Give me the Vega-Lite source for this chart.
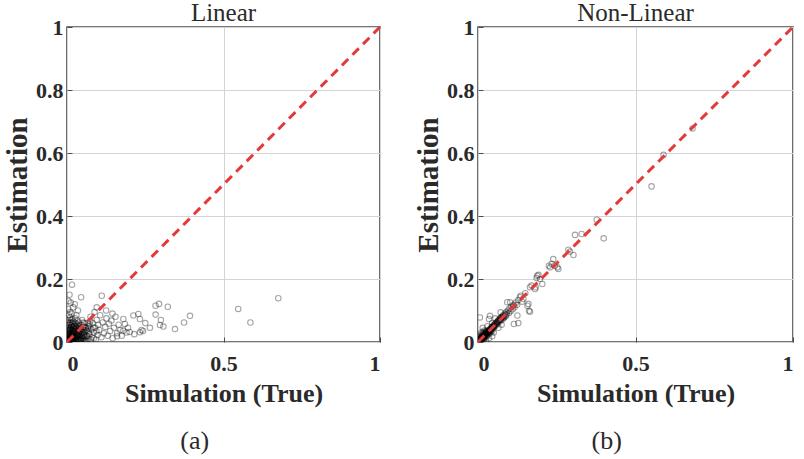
{
  "$schema": "https://vega.github.io/schema/vega-lite/v6.json",
  "background": "white",
  "padding": {"left": 2, "top": 0, "right": 4, "bottom": 4},
  "config": {
    "font": "Liberation Serif",
    "view": {"stroke": "#4a4a4a", "strokeWidth": 1.6},
    "axis": {
      "domain": false,
      "grid": true,
      "gridColor": "#d4d4d4",
      "gridWidth": 1,
      "ticks": true,
      "tickSize": -5,
      "tickColor": "#4a4a4a",
      "labelFont": "Liberation Serif",
      "labelFontWeight": "bold",
      "labelFontSize": 22,
      "labelColor": "#2a2a2a",
      "titleFont": "Liberation Serif",
      "titleFontWeight": "bold",
      "titleColor": "#2a2a2a"
    },
    "title": {"font": "Liberation Serif", "fontWeight": "normal", "fontSize": 25, "color": "#2a2a2a", "anchor": "middle"}
  },
  "datasets": {
    "diagonal": [{"v": 0}, {"v": 1}],
    "linear": [
      {"sim": 0.002, "est": 0.003}, {"sim": 0.004, "est": 0.008}, {"sim": 0.006, "est": 0.002}, {"sim": 0.008, "est": 0.012},
      {"sim": 0.010, "est": 0.005}, {"sim": 0.012, "est": 0.018}, {"sim": 0.003, "est": 0.015}, {"sim": 0.005, "est": 0.022},
      {"sim": 0.007, "est": 0.030}, {"sim": 0.009, "est": 0.009}, {"sim": 0.011, "est": 0.025}, {"sim": 0.013, "est": 0.004},
      {"sim": 0.015, "est": 0.014}, {"sim": 0.017, "est": 0.008}, {"sim": 0.019, "est": 0.020}, {"sim": 0.021, "est": 0.003},
      {"sim": 0.023, "est": 0.011}, {"sim": 0.025, "est": 0.028}, {"sim": 0.027, "est": 0.006}, {"sim": 0.029, "est": 0.016},
      {"sim": 0.031, "est": 0.002}, {"sim": 0.033, "est": 0.022}, {"sim": 0.035, "est": 0.010}, {"sim": 0.037, "est": 0.035},
      {"sim": 0.039, "est": 0.005}, {"sim": 0.041, "est": 0.018}, {"sim": 0.043, "est": 0.027}, {"sim": 0.045, "est": 0.008},
      {"sim": 0.047, "est": 0.013}, {"sim": 0.049, "est": 0.040}, {"sim": 0.051, "est": 0.003}, {"sim": 0.053, "est": 0.021},
      {"sim": 0.055, "est": 0.011}, {"sim": 0.057, "est": 0.032}, {"sim": 0.059, "est": 0.006}, {"sim": 0.002, "est": 0.040},
      {"sim": 0.004, "est": 0.050}, {"sim": 0.006, "est": 0.036}, {"sim": 0.008, "est": 0.060}, {"sim": 0.010, "est": 0.045},
      {"sim": 0.012, "est": 0.070}, {"sim": 0.014, "est": 0.055}, {"sim": 0.016, "est": 0.038}, {"sim": 0.018, "est": 0.048},
      {"sim": 0.020, "est": 0.065}, {"sim": 0.022, "est": 0.042}, {"sim": 0.024, "est": 0.052}, {"sim": 0.026, "est": 0.075},
      {"sim": 0.028, "est": 0.035}, {"sim": 0.030, "est": 0.058}, {"sim": 0.032, "est": 0.045}, {"sim": 0.034, "est": 0.068},
      {"sim": 0.036, "est": 0.050}, {"sim": 0.038, "est": 0.062}, {"sim": 0.040, "est": 0.040}, {"sim": 0.044, "est": 0.055},
      {"sim": 0.048, "est": 0.070}, {"sim": 0.052, "est": 0.048}, {"sim": 0.056, "est": 0.060}, {"sim": 0.060, "est": 0.045},
      {"sim": 0.001, "est": 0.001}, {"sim": 0.003, "est": 0.006}, {"sim": 0.005, "est": 0.010}, {"sim": 0.007, "est": 0.004},
      {"sim": 0.009, "est": 0.016}, {"sim": 0.011, "est": 0.001}, {"sim": 0.013, "est": 0.010}, {"sim": 0.015, "est": 0.024},
      {"sim": 0.017, "est": 0.002}, {"sim": 0.019, "est": 0.032}, {"sim": 0.021, "est": 0.015}, {"sim": 0.006, "est": 0.085},
      {"sim": 0.001, "est": 0.012}, {"sim": 0.002, "est": 0.020}, {"sim": 0.004, "est": 0.027}, {"sim": 0.006, "est": 0.016},
      {"sim": 0.008, "est": 0.024}, {"sim": 0.010, "est": 0.034}, {"sim": 0.012, "est": 0.008}, {"sim": 0.014, "est": 0.030},
      {"sim": 0.016, "est": 0.012}, {"sim": 0.018, "est": 0.026}, {"sim": 0.020, "est": 0.006}, {"sim": 0.022, "est": 0.030},
      {"sim": 0.024, "est": 0.014}, {"sim": 0.026, "est": 0.040}, {"sim": 0.028, "est": 0.010}, {"sim": 0.030, "est": 0.024},
      {"sim": 0.032, "est": 0.006}, {"sim": 0.034, "est": 0.030}, {"sim": 0.036, "est": 0.016}, {"sim": 0.038, "est": 0.044},
      {"sim": 0.040, "est": 0.012}, {"sim": 0.042, "est": 0.034}, {"sim": 0.044, "est": 0.004}, {"sim": 0.046, "est": 0.024},
      {"sim": 0.048, "est": 0.018}, {"sim": 0.050, "est": 0.030}, {"sim": 0.054, "est": 0.038}, {"sim": 0.058, "est": 0.016},
      {"sim": 0.003, "est": 0.033}, {"sim": 0.005, "est": 0.045}, {"sim": 0.007, "est": 0.055}, {"sim": 0.009, "est": 0.040},
      {"sim": 0.011, "est": 0.062}, {"sim": 0.013, "est": 0.048}, {"sim": 0.017, "est": 0.060}, {"sim": 0.021, "est": 0.050},
      {"sim": 0.025, "est": 0.062}, {"sim": 0.029, "est": 0.044}, {"sim": 0.033, "est": 0.055}, {"sim": 0.004, "est": 0.070},
      {"sim": 0.010, "est": 0.078}, {"sim": 0.016, "est": 0.072}, {"sim": 0.002, "est": 0.062}, {"sim": 0.008, "est": 0.002},
      {"sim": 0.002, "est": 0.008}, {"sim": 0.004, "est": 0.018}, {"sim": 0.006, "est": 0.026}, {"sim": 0.008, "est": 0.038},
      {"sim": 0.010, "est": 0.014}, {"sim": 0.012, "est": 0.040}, {"sim": 0.014, "est": 0.020}, {"sim": 0.016, "est": 0.004},
      {"sim": 0.018, "est": 0.036}, {"sim": 0.020, "est": 0.028}, {"sim": 0.022, "est": 0.008}, {"sim": 0.024, "est": 0.036},
      {"sim": 0.026, "est": 0.018}, {"sim": 0.028, "est": 0.050}, {"sim": 0.030, "est": 0.012}, {"sim": 0.032, "est": 0.032},
      {"sim": 0.034, "est": 0.020}, {"sim": 0.036, "est": 0.006}, {"sim": 0.038, "est": 0.026}, {"sim": 0.040, "est": 0.050},
      {"sim": 0.042, "est": 0.008}, {"sim": 0.044, "est": 0.040}, {"sim": 0.046, "est": 0.032}, {"sim": 0.050, "est": 0.012},
      {"sim": 0.052, "est": 0.062}, {"sim": 0.054, "est": 0.026}, {"sim": 0.056, "est": 0.004}, {"sim": 0.058, "est": 0.048},
      {"sim": 0.062, "est": 0.038}, {"sim": 0.066, "est": 0.018}, {"sim": 0.068, "est": 0.044}, {"sim": 0.072, "est": 0.056},
      {"sim": 0.010, "est": 0.095}, {"sim": 0.003, "est": 0.105}, {"sim": 0.015, "est": 0.090}, {"sim": 0.020, "est": 0.110},
      {"sim": 0.012, "est": 0.125}, {"sim": 0.005, "est": 0.130}, {"sim": 0.008, "est": 0.150}, {"sim": 0.016, "est": 0.182},
      {"sim": 0.045, "est": 0.142}, {"sim": 0.025, "est": 0.120}, {"sim": 0.035, "est": 0.100}, {"sim": 0.030, "est": 0.085},
      {"sim": 0.062, "est": 0.020}, {"sim": 0.065, "est": 0.035}, {"sim": 0.068, "est": 0.010}, {"sim": 0.070, "est": 0.050},
      {"sim": 0.072, "est": 0.025}, {"sim": 0.075, "est": 0.080}, {"sim": 0.078, "est": 0.040}, {"sim": 0.080, "est": 0.015},
      {"sim": 0.082, "est": 0.060}, {"sim": 0.085, "est": 0.030}, {"sim": 0.088, "est": 0.095}, {"sim": 0.090, "est": 0.045},
      {"sim": 0.092, "est": 0.008}, {"sim": 0.095, "est": 0.070}, {"sim": 0.098, "est": 0.022}, {"sim": 0.100, "est": 0.055},
      {"sim": 0.064, "est": 0.004}, {"sim": 0.070, "est": 0.030}, {"sim": 0.076, "est": 0.008}, {"sim": 0.084, "est": 0.046},
      {"sim": 0.066, "est": 0.060}, {"sim": 0.074, "est": 0.066}, {"sim": 0.086, "est": 0.012}, {"sim": 0.094, "est": 0.034},
      {"sim": 0.103, "est": 0.038}, {"sim": 0.106, "est": 0.085}, {"sim": 0.110, "est": 0.015}, {"sim": 0.111, "est": 0.147},
      {"sim": 0.114, "est": 0.062}, {"sim": 0.118, "est": 0.028}, {"sim": 0.122, "est": 0.048}, {"sim": 0.126, "est": 0.075},
      {"sim": 0.130, "est": 0.020}, {"sim": 0.134, "est": 0.058}, {"sim": 0.138, "est": 0.035}, {"sim": 0.142, "est": 0.068},
      {"sim": 0.146, "est": 0.012}, {"sim": 0.150, "est": 0.045}, {"sim": 0.155, "est": 0.080}, {"sim": 0.160, "est": 0.028},
      {"sim": 0.165, "est": 0.055}, {"sim": 0.170, "est": 0.038}, {"sim": 0.175, "est": 0.020}, {"sim": 0.180, "est": 0.073},
      {"sim": 0.185, "est": 0.057}, {"sim": 0.180, "est": 0.036}, {"sim": 0.190, "est": 0.030}, {"sim": 0.195, "est": 0.045},
      {"sim": 0.200, "est": 0.032}, {"sim": 0.160, "est": 0.018}, {"sim": 0.145, "est": 0.090}, {"sim": 0.125, "est": 0.100},
      {"sim": 0.095, "est": 0.110}, {"sim": 0.212, "est": 0.084}, {"sim": 0.228, "est": 0.089}, {"sim": 0.233, "est": 0.073},
      {"sim": 0.238, "est": 0.038}, {"sim": 0.233, "est": 0.031}, {"sim": 0.243, "est": 0.035}, {"sim": 0.283, "est": 0.115},
      {"sim": 0.294, "est": 0.121}, {"sim": 0.283, "est": 0.087}, {"sim": 0.300, "est": 0.070}, {"sim": 0.297, "est": 0.054},
      {"sim": 0.308, "est": 0.049}, {"sim": 0.322, "est": 0.112}, {"sim": 0.345, "est": 0.041}, {"sim": 0.374, "est": 0.062},
      {"sim": 0.393, "est": 0.083}, {"sim": 0.250, "est": 0.060}, {"sim": 0.215, "est": 0.025}, {"sim": 0.265, "est": 0.045},
      {"sim": 0.547, "est": 0.105}, {"sim": 0.586, "est": 0.062}, {"sim": 0.675, "est": 0.139}
    ],
    "nonlinear": [
      {"sim": 0.002, "est": 0.002}, {"sim": 0.004, "est": 0.005}, {"sim": 0.006, "est": 0.004}, {"sim": 0.008, "est": 0.010},
      {"sim": 0.010, "est": 0.008}, {"sim": 0.012, "est": 0.013}, {"sim": 0.014, "est": 0.012}, {"sim": 0.016, "est": 0.018},
      {"sim": 0.018, "est": 0.015}, {"sim": 0.020, "est": 0.022}, {"sim": 0.022, "est": 0.019}, {"sim": 0.024, "est": 0.026},
      {"sim": 0.026, "est": 0.022}, {"sim": 0.028, "est": 0.030}, {"sim": 0.030, "est": 0.027}, {"sim": 0.032, "est": 0.034},
      {"sim": 0.034, "est": 0.030}, {"sim": 0.036, "est": 0.038}, {"sim": 0.038, "est": 0.035}, {"sim": 0.040, "est": 0.042},
      {"sim": 0.042, "est": 0.038}, {"sim": 0.044, "est": 0.047}, {"sim": 0.046, "est": 0.043}, {"sim": 0.048, "est": 0.050},
      {"sim": 0.050, "est": 0.046}, {"sim": 0.052, "est": 0.055}, {"sim": 0.054, "est": 0.050}, {"sim": 0.056, "est": 0.058},
      {"sim": 0.058, "est": 0.054}, {"sim": 0.060, "est": 0.063}, {"sim": 0.003, "est": 0.008}, {"sim": 0.007, "est": 0.012},
      {"sim": 0.011, "est": 0.018}, {"sim": 0.015, "est": 0.024}, {"sim": 0.019, "est": 0.028}, {"sim": 0.023, "est": 0.032},
      {"sim": 0.027, "est": 0.036}, {"sim": 0.005, "est": 0.001}, {"sim": 0.009, "est": 0.004}, {"sim": 0.013, "est": 0.007},
      {"sim": 0.017, "est": 0.010}, {"sim": 0.021, "est": 0.013}, {"sim": 0.025, "est": 0.017}, {"sim": 0.029, "est": 0.020},
      {"sim": 0.033, "est": 0.024}, {"sim": 0.037, "est": 0.028}, {"sim": 0.041, "est": 0.032}, {"sim": 0.045, "est": 0.036},
      {"sim": 0.001, "est": 0.004}, {"sim": 0.003, "est": 0.002}, {"sim": 0.005, "est": 0.007}, {"sim": 0.007, "est": 0.006},
      {"sim": 0.009, "est": 0.011}, {"sim": 0.011, "est": 0.010}, {"sim": 0.013, "est": 0.016}, {"sim": 0.015, "est": 0.014},
      {"sim": 0.017, "est": 0.020}, {"sim": 0.019, "est": 0.018}, {"sim": 0.021, "est": 0.024}, {"sim": 0.023, "est": 0.021},
      {"sim": 0.025, "est": 0.028}, {"sim": 0.027, "est": 0.025}, {"sim": 0.031, "est": 0.031}, {"sim": 0.035, "est": 0.034},
      {"sim": 0.039, "est": 0.039}, {"sim": 0.043, "est": 0.042}, {"sim": 0.047, "est": 0.047}, {"sim": 0.051, "est": 0.051},
      {"sim": 0.004, "est": 0.014}, {"sim": 0.008, "est": 0.020}, {"sim": 0.012, "est": 0.026}, {"sim": 0.016, "est": 0.032},
      {"sim": 0.020, "est": 0.036}, {"sim": 0.010, "est": 0.001}, {"sim": 0.014, "est": 0.004}, {"sim": 0.018, "est": 0.006},
      {"sim": 0.002, "est": 0.006}, {"sim": 0.006, "est": 0.008}, {"sim": 0.010, "est": 0.012}, {"sim": 0.014, "est": 0.017},
      {"sim": 0.018, "est": 0.021}, {"sim": 0.022, "est": 0.024}, {"sim": 0.026, "est": 0.029}, {"sim": 0.030, "est": 0.032},
      {"sim": 0.034, "est": 0.036}, {"sim": 0.038, "est": 0.040}, {"sim": 0.042, "est": 0.045}, {"sim": 0.046, "est": 0.048},
      {"sim": 0.050, "est": 0.053}, {"sim": 0.054, "est": 0.057}, {"sim": 0.058, "est": 0.060}, {"sim": 0.062, "est": 0.064},
      {"sim": 0.066, "est": 0.068}, {"sim": 0.070, "est": 0.071}, {"sim": 0.074, "est": 0.077}, {"sim": 0.078, "est": 0.081},
      {"sim": 0.006, "est": 0.078}, {"sim": 0.035, "est": 0.073}, {"sim": 0.038, "est": 0.083}, {"sim": 0.015, "est": 0.045},
      {"sim": 0.010, "est": 0.030}, {"sim": 0.030, "est": 0.050}, {"sim": 0.025, "est": 0.005}, {"sim": 0.035, "est": 0.012},
      {"sim": 0.045, "est": 0.018}, {"sim": 0.055, "est": 0.075}, {"sim": 0.045, "est": 0.060}, {"sim": 0.050, "est": 0.030},
      {"sim": 0.065, "est": 0.045}, {"sim": 0.075, "est": 0.055}, {"sim": 0.062, "est": 0.058}, {"sim": 0.065, "est": 0.070},
      {"sim": 0.068, "est": 0.064}, {"sim": 0.070, "est": 0.075}, {"sim": 0.072, "est": 0.068}, {"sim": 0.075, "est": 0.080},
      {"sim": 0.078, "est": 0.072}, {"sim": 0.080, "est": 0.085}, {"sim": 0.082, "est": 0.078}, {"sim": 0.085, "est": 0.090},
      {"sim": 0.088, "est": 0.082}, {"sim": 0.090, "est": 0.095}, {"sim": 0.092, "est": 0.088}, {"sim": 0.095, "est": 0.100},
      {"sim": 0.064, "est": 0.066}, {"sim": 0.073, "est": 0.074}, {"sim": 0.079, "est": 0.080}, {"sim": 0.087, "est": 0.086},
      {"sim": 0.098, "est": 0.092}, {"sim": 0.100, "est": 0.106}, {"sim": 0.103, "est": 0.098}, {"sim": 0.106, "est": 0.112},
      {"sim": 0.110, "est": 0.104}, {"sim": 0.113, "est": 0.118}, {"sim": 0.116, "est": 0.110}, {"sim": 0.120, "est": 0.125},
      {"sim": 0.124, "est": 0.118}, {"sim": 0.128, "est": 0.133}, {"sim": 0.072, "est": 0.094}, {"sim": 0.083, "est": 0.078},
      {"sim": 0.093, "est": 0.126}, {"sim": 0.114, "est": 0.057}, {"sim": 0.125, "est": 0.084}, {"sim": 0.102, "est": 0.126},
      {"sim": 0.112, "est": 0.115}, {"sim": 0.128, "est": 0.060}, {"sim": 0.133, "est": 0.142}, {"sim": 0.144, "est": 0.137},
      {"sim": 0.136, "est": 0.147}, {"sim": 0.157, "est": 0.115}, {"sim": 0.162, "est": 0.099}, {"sim": 0.160, "est": 0.121},
      {"sim": 0.165, "est": 0.096}, {"sim": 0.150, "est": 0.155}, {"sim": 0.140, "est": 0.128}, {"sim": 0.170, "est": 0.179},
      {"sim": 0.181, "est": 0.168}, {"sim": 0.165, "est": 0.174}, {"sim": 0.183, "est": 0.174}, {"sim": 0.188, "est": 0.210},
      {"sim": 0.192, "est": 0.213}, {"sim": 0.197, "est": 0.200}, {"sim": 0.186, "est": 0.203}, {"sim": 0.204, "est": 0.184},
      {"sim": 0.225, "est": 0.242}, {"sim": 0.229, "est": 0.237}, {"sim": 0.234, "est": 0.248}, {"sim": 0.239, "est": 0.263},
      {"sim": 0.244, "est": 0.242}, {"sim": 0.252, "est": 0.237}, {"sim": 0.255, "est": 0.232}, {"sim": 0.287, "est": 0.293},
      {"sim": 0.292, "est": 0.287}, {"sim": 0.303, "est": 0.276}, {"sim": 0.308, "est": 0.340}, {"sim": 0.329, "est": 0.343},
      {"sim": 0.377, "est": 0.388}, {"sim": 0.399, "est": 0.329}, {"sim": 0.551, "est": 0.494}, {"sim": 0.589, "est": 0.594},
      {"sim": 0.681, "est": 0.678}
    ]
  },
  "hconcat": [
    {
      "title": {"text": "(a)", "orient": "bottom", "fontSize": 26, "offset": 21},
      "vconcat": [
        {
          "title": {"text": "Linear", "fontSize": 25, "offset": -10},
          "width": 313,
          "height": 315,
          "layer": [
            {
              "data": {"name": "linear"},
              "mark": {"type": "point", "shape": "circle", "filled": false, "size": 30, "stroke": "#000000", "strokeOpacity": 0.5, "strokeWidth": 1.1, "clip": true},
              "encoding": {
                "x": {"field": "sim", "type": "quantitative", "scale": {"domain": [0, 1], "nice": false},
                      "axis": {"values": [0, 0.5, 1], "format": "~g", "title": "Simulation (True)", "titleFontSize": 26, "labelPadding": 16, "titlePadding": 6}},
                "y": {"field": "est", "type": "quantitative", "scale": {"domain": [0, 1], "nice": false},
                      "axis": {"values": [0, 0.2, 0.4, 0.6, 0.8, 1], "format": "~g", "title": "Estimation", "titleFontSize": 29, "labelPadding": 9, "titlePadding": 3}}
              }
            },
            {
              "data": {"name": "diagonal"},
              "mark": {"type": "line", "color": "#e4393b", "strokeWidth": 3, "strokeDash": [9, 6]},
              "encoding": {
                "x": {"field": "v", "type": "quantitative"},
                "y": {"field": "v", "type": "quantitative"}
              }
            }
          ]
        }
      ]
    },
    {
      "title": {"text": "(b)", "orient": "bottom", "fontSize": 26, "offset": 21},
      "vconcat": [
        {
          "title": {"text": "Non-Linear", "fontSize": 25, "offset": -10},
          "width": 315,
          "height": 315,
          "layer": [
            {
              "data": {"name": "nonlinear"},
              "mark": {"type": "point", "shape": "circle", "filled": false, "size": 30, "stroke": "#000000", "strokeOpacity": 0.5, "strokeWidth": 1.1, "clip": true},
              "encoding": {
                "x": {"field": "sim", "type": "quantitative", "scale": {"domain": [0, 1], "nice": false},
                      "axis": {"values": [0, 0.5, 1], "format": "~g", "title": "Simulation (True)", "titleFontSize": 26, "labelPadding": 16, "titlePadding": 6}},
                "y": {"field": "est", "type": "quantitative", "scale": {"domain": [0, 1], "nice": false},
                      "axis": {"values": [0, 0.2, 0.4, 0.6, 0.8, 1], "format": "~g", "title": "Estimation", "titleFontSize": 29, "labelPadding": 9, "titlePadding": 3}}
              }
            },
            {
              "data": {"name": "diagonal"},
              "mark": {"type": "line", "color": "#e4393b", "strokeWidth": 3, "strokeDash": [9, 6]},
              "encoding": {
                "x": {"field": "v", "type": "quantitative"},
                "y": {"field": "v", "type": "quantitative"}
              }
            }
          ]
        }
      ]
    }
  ],
  "spacing": 26
}
